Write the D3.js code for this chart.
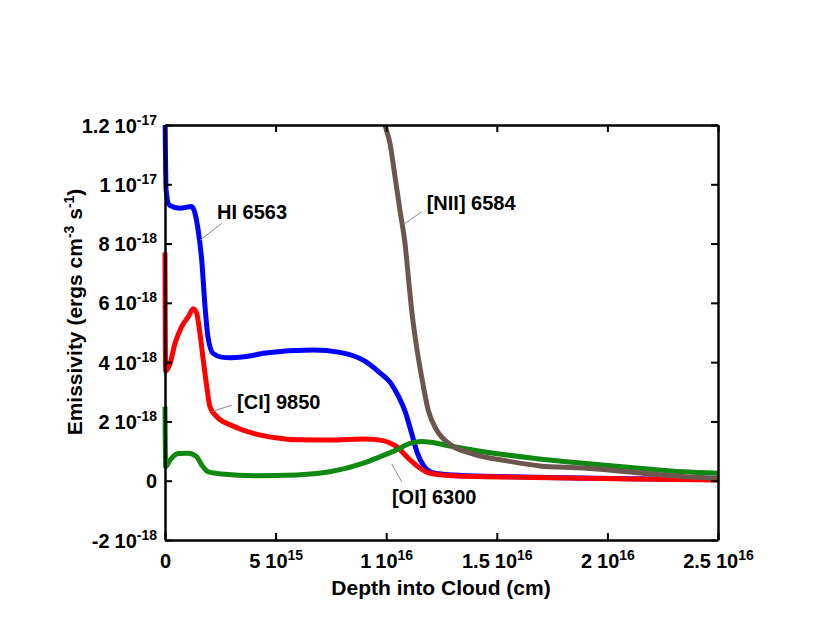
<!DOCTYPE html>
<html>
<head>
<meta charset="utf-8">
<script src="https://cdn.jsdelivr.net/npm/d3@7"></script>
<style>
  body { margin: 0; background: #fff; }
  text { font-family: "Liberation Sans", Arial, sans-serif; font-weight: bold; fill: #000; }
</style>
</head>
<body>
<svg id="chart" width="830" height="623"></svg>
<script>
// depth in units of 1e15 cm, emissivity in units of 1e-18 ergs cm^-3 s^-1
const hi6563 = [
  [0, 12.6], [0.05, 9.8], [0.2, 9.3], [0.68, 9.19], [1.2, 9.25], [1.49, 8.5],
  [1.66, 7.44], [1.81, 5.87], [1.94, 4.86], [2.17, 4.3], [2.56, 4.17], [2.94, 4.15],
  [4.07, 4.24], [4.44, 4.3], [6.7, 4.41], [7.91, 4.33], [9.0, 4.05], [9.7, 3.65],
  [10.2, 3.3], [10.55, 2.85], [10.85, 2.35], [11.15, 1.6], [11.4, 0.95], [11.7, 0.5],
  [12.1, 0.27], [13.0, 0.19], [15, 0.14], [18, 0.1], [21, 0.07], [25, 0.04]
];
const ci9850 = [
  [0, 7.7], [0.03, 3.7], [0.23, 3.96], [0.45, 4.63], [0.75, 5.19], [1.05, 5.53],
  [1.28, 5.8], [1.43, 5.65], [1.58, 4.97], [1.73, 4.07], [1.89, 3.17], [2.03, 2.5],
  [2.34, 2.16], [3.02, 1.86], [4.0, 1.6], [5.0, 1.45], [5.95, 1.38], [7.46, 1.37],
  [8.97, 1.41], [9.72, 1.37], [10.47, 1.15], [11.08, 0.7], [11.53, 0.42], [11.98, 0.25],
  [13.0, 0.17], [16.65, 0.11], [21.17, 0.06], [25, 0.02]
];
const oi6300 = [
  [0, 2.5], [0.03, 0.47], [0.23, 0.7], [0.6, 0.92], [1.05, 0.93], [1.43, 0.81],
  [1.66, 0.53], [1.96, 0.3], [2.56, 0.23], [4.07, 0.17], [5.95, 0.19], [7.46, 0.3],
  [8.97, 0.59], [9.72, 0.81], [10.47, 1.04], [11.08, 1.26], [11.6, 1.32], [12.0, 1.3],
  [12.88, 1.17], [14.39, 0.98], [16.65, 0.76], [18.91, 0.59], [21.17, 0.44],
  [23.43, 0.3], [25, 0.25]
];
const nii6584 = [
  [9.7, 13.0], [9.95, 12.0], [10.17, 11.38], [10.4, 10.25], [10.62, 9.13], [10.85, 8.0],
  [11.0, 6.88], [11.15, 5.76], [11.35, 4.63], [11.6, 3.51], [11.9, 2.38], [12.28, 1.71],
  [12.88, 1.23], [13.94, 0.9], [15.45, 0.67], [16.95, 0.5], [18.9, 0.43], [21.2, 0.28],
  [23.4, 0.14], [25, 0.08]
];

const lineNames = ["HI 6563", "[CI] 9850", "[OI] 6300", "[NII] 6584"];
const lineData = [hi6563, ci9850, oi6300, nii6584];
const lineColors = ["#0000ff", "#ff0000", "#118811", "#6e5650"];
// label anchor [x, y] and leader line [x1, y1, x2, y2], all in data units
const labelAt = [[2.35, 8.83], [3.26, 2.42], [10.26, -0.79], [11.83, 9.13]];
const leaders = [
  [1.58, 8.11, 2.56, 8.68],
  [2.11, 2.33, 3.02, 2.55],
  [10.25, 0.56, 10.71, -0.04],
  [10.85, 8.68, 11.6, 9.07]
];

const xTicks = [0, 5, 10, 15, 20, 25];
const xTickLabels = [["0", ""], ["5", "15"], ["1", "16"], ["1.5", "16"], ["2", "16"], ["2.5", "16"]];
const yTicks = [-2, 0, 2, 4, 6, 8, 10, 12];
const yTickLabels = [["-2", "-18"], ["0", ""], ["2", "-18"], ["4", "-18"], ["6", "-18"],
                     ["8", "-18"], ["1", "-17"], ["1.2", "-17"]];

const margin = {left: 165, top: 125, right: 112, bottom: 83};
const width = 830 - margin.left - margin.right,
      height = 623 - margin.top - margin.bottom;

const svg = d3.select("#chart");
const g = svg.append("g").attr("transform", `translate(${margin.left},${margin.top})`);

const x = d3.scaleLinear().domain([0, 25]).range([0, width]);
const y = d3.scaleLinear().domain([-2, 12]).range([height, 0]);

svg.append("defs").append("clipPath").attr("id", "plotclip")
  .append("rect").attr("x", -3).attr("y", 0).attr("width", width + 6).attr("height", height);

// mantissa, "10" and a raised exponent
function sciLabel(text, lab) {
  text.text(null);
  text.append("tspan").text(lab[0]);
  if (lab[1]) {
    text.append("tspan").attr("dx", 5).text("10");
    text.append("tspan").attr("dy", -8).attr("font-size", 14).text(lab[1]);
  }
}

const line = d3.line()
  .x(d => x(d[0]))
  .y(d => y(d[1]))
  .curve(d3.curveMonotoneX);

g.append("g").attr("clip-path", "url(#plotclip)")
  .selectAll("path")
  .data(lineData)
  .join("path")
    .attr("fill", "none")
    .attr("stroke", (d, i) => lineColors[i])
    .attr("stroke-width", 5)
    .attr("stroke-linejoin", "round")
    .attr("d", line);

// axes on all four sides, ticks inward
const styleAxis = sel => {
  sel.select(".domain").attr("stroke", "#000").attr("stroke-width", 2.5);
  sel.selectAll(".tick line").attr("stroke", "#000").attr("stroke-width", 2);
};

const xAxis = g.append("g").attr("transform", `translate(0,${height})`)
  .call(d3.axisBottom(x).tickValues(xTicks).tickSize(-7).tickSizeOuter(0).tickPadding(0))
  .call(styleAxis);
xAxis.selectAll(".tick text")
  .attr("font-size", 20).attr("y", 28).attr("dy", 0)
  .attr("font-family", null)
  .each(function (d, i) { sciLabel(d3.select(this), xTickLabels[i]); });

g.append("g")
  .call(d3.axisTop(x).tickValues(xTicks).tickSize(-7).tickSizeOuter(0).tickFormat(""))
  .call(styleAxis);

const yAxis = g.append("g")
  .call(d3.axisLeft(y).tickValues(yTicks).tickSize(-7).tickSizeOuter(0).tickPadding(8))
  .call(styleAxis);
yAxis.selectAll(".tick text")
  .attr("font-size", 20).attr("dy", 7)
  .attr("font-family", null)
  .each(function (d, i) { sciLabel(d3.select(this), yTickLabels[i]); });

g.append("g").attr("transform", `translate(${width},0)`)
  .call(d3.axisRight(y).tickValues(yTicks).tickSize(-7).tickSizeOuter(0).tickFormat(""))
  .call(styleAxis);

// curve labels and leader lines
g.selectAll(".leader")
  .data(leaders)
  .join("line")
    .attr("class", "leader")
    .attr("x1", d => x(d[0])).attr("y1", d => y(d[1]))
    .attr("x2", d => x(d[2])).attr("y2", d => y(d[3]))
    .attr("stroke", "#888").attr("stroke-width", 1);

g.selectAll(".lbl")
  .data(lineNames)
  .join("text")
    .attr("class", "lbl")
    .attr("x", (d, i) => x(labelAt[i][0]))
    .attr("y", (d, i) => y(labelAt[i][1]))
    .attr("font-size", 20)
    .text(d => d);

// axis titles
svg.append("text")
  .attr("x", 441)
  .attr("y", 595)
  .attr("text-anchor", "middle")
  .attr("font-size", 21)
  .text("Depth into Cloud (cm)");

const yt = svg.append("text")
  .attr("transform", "translate(82,312) rotate(-90)")
  .attr("text-anchor", "middle")
  .attr("font-size", 21);
yt.append("tspan").text("Emissivity (ergs cm");
yt.append("tspan").attr("dy", -8).attr("font-size", 14).text("-3");
yt.append("tspan").attr("dy", 8).text(" s");
yt.append("tspan").attr("dy", -8).attr("font-size", 14).text("-1");
yt.append("tspan").attr("dy", 8).text(")");
</script>
</body>
</html>
